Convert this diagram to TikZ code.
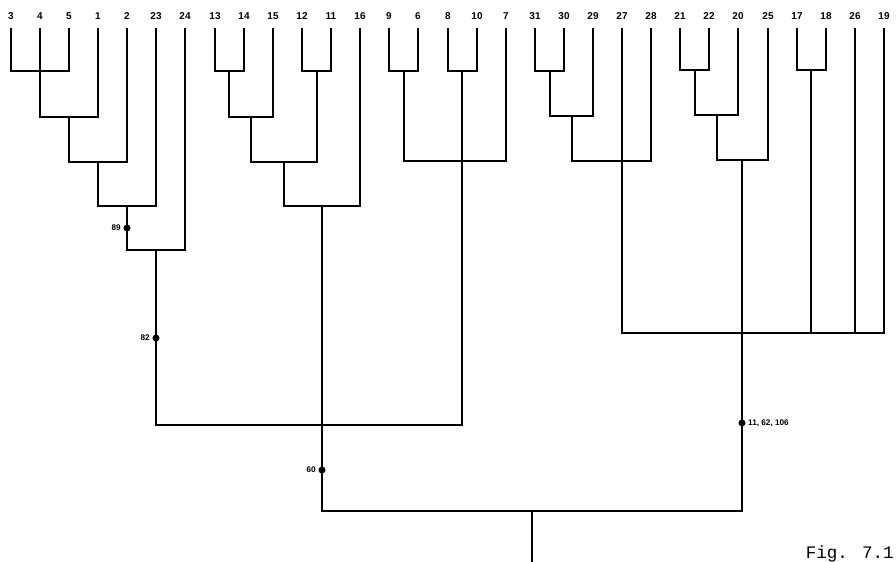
\documentclass[tikz,border=0pt]{standalone}
\usepackage{fontspec}
\setmainfont{Liberation Sans}
\newfontfamily\figfont{Liberation Mono}
\usepackage{tikz}

\tikzset{
  leaf/.style={anchor=south,inner xsep=0pt,inner ysep=7pt,text depth=0pt,font=\bfseries\fontsize{8.5}{9}\selectfont},
  dot/.style={circle,fill=black,inner sep=0pt,minimum size=6pt},
  dotlbl/.style={font=\bfseries\fontsize{7}{8}\selectfont,inner sep=1pt},
}

\begin{document}
\begin{tikzpicture}[x=0.03cm,y=-0.03cm,line width=1.3pt]
\useasboundingbox (0,0) rectangle (896,562);

% leaves
\node[leaf] (l3) at (11,28) {3};    \node[leaf] (l4) at (40,28) {4};
\node[leaf] (l5) at (69,28) {5};    \node[leaf] (l1) at (98,28) {1};
\node[leaf] (l2) at (127,28) {2};   \node[leaf] (l23) at (156,28) {23};
\node[leaf] (l24) at (185,28) {24}; \node[leaf] (l13) at (215,28) {13};
\node[leaf] (l14) at (244,28) {14}; \node[leaf] (l15) at (273,28) {15};
\node[leaf] (l12) at (302,28) {12}; \node[leaf] (l11) at (331,28) {11};
\node[leaf] (l16) at (360,28) {16}; \node[leaf] (l9) at (389,28) {9};
\node[leaf] (l6) at (418,28) {6};   \node[leaf] (l8) at (448,28) {8};
\node[leaf] (l10) at (477,28) {10}; \node[leaf] (l7) at (506,28) {7};
\node[leaf] (l31) at (535,28) {31}; \node[leaf] (l30) at (564,28) {30};
\node[leaf] (l29) at (593,28) {29}; \node[leaf] (l27) at (622,28) {27};
\node[leaf] (l28) at (651,28) {28}; \node[leaf] (l21) at (680,28) {21};
\node[leaf] (l22) at (709,28) {22}; \node[leaf] (l20) at (738,28) {20};
\node[leaf] (l25) at (768,28) {25}; \node[leaf] (l17) at (797,28) {17};
\node[leaf] (l18) at (826,28) {18}; \node[leaf] (l26) at (855,28) {26};
\node[leaf] (l19) at (884,28) {19};

% merge points
\coordinate (a1) at (40,71);  \coordinate (a2) at (69,117);
\coordinate (a3) at (98,162); \coordinate (a4) at (127,206);
\coordinate (a5) at (156,250);
\coordinate (b1) at (229,71); \coordinate (b2) at (251,117);
\coordinate (b3) at (317,71); \coordinate (b4) at (284,162);
\coordinate (b5) at (322,206);
\coordinate (c1) at (404,71); \coordinate (c2) at (462,71);
\coordinate (c3) at (462,161);
\coordinate (e1) at (322,425);
\coordinate (d1) at (550,71); \coordinate (d2) at (572,116);
\coordinate (d3) at (622,161);
\coordinate (g1) at (695,70); \coordinate (g2) at (717,115);
\coordinate (g3) at (742,160);
\coordinate (h1) at (811,70);
\coordinate (k) at (742,333);
\coordinate (r) at (532,511);
\coordinate (root) at (532,562);

% left cluster
\draw (l3) |- (a1) -| (l5);
\draw (l4) -- (a1);
\draw (a1) |- (a2) -| (l1);
\draw (a2) |- (a3) -| (l2);
\draw (a3) |- (a4) -| (l23);
\draw (a4) |- (a5) -| (l24);
\draw (l13) |- (b1) -| (l14);
\draw (b1) |- (b2) -| (l15);
\draw (l12) |- (b3) -| (l11);
\draw (b2) |- (b4) -| (b3);
\draw (b4) |- (b5) -| (l16);
\draw (l9) |- (c1) -| (l6);
\draw (l8) |- (c2) -| (l10);
\draw (c1) |- (c3) -| (l7);
\draw (c2) -- (c3);
\draw (a5) |- (e1) -| (c3);

% right cluster
\draw (l31) |- (d1) -| (l30);
\draw (d1) |- (d2) -| (l29);
\draw (d2) |- (d3) -| (l28);
\draw (l27) -- (d3);
\draw (l21) |- (g1) -| (l22);
\draw (g1) |- (g2) -| (l20);
\draw (g2) |- (g3) -| (l25);
\draw (l17) |- (h1) -| (l18);
\draw (d3) |- (k) -| (l19);
\draw (g3) -- (k);
\draw (h1) -- (h1 |- k);
\draw (l26) -- (l26 |- k);

% root
\draw (b5) |- (r) -| (k);
\draw (r) -- (root);

% marked branches
\node[dot,label={[dotlbl]left:89}] (d89) at (127,228) {};
\node[dot,label={[dotlbl]left:82}] (d82) at (156,338) {};
\node[dot,label={[dotlbl]left:60}] (d60) at (322,470) {};
\node[dot,label={[dotlbl]right:{11, 62, 106}}] (d106) at (742,423) {};

\node[anchor=base west,inner sep=0pt,font=\figfont\fontsize{15}{16}\selectfont] (fig) at (805,558) {Fig. 7.1};
\end{tikzpicture}
\end{document}
